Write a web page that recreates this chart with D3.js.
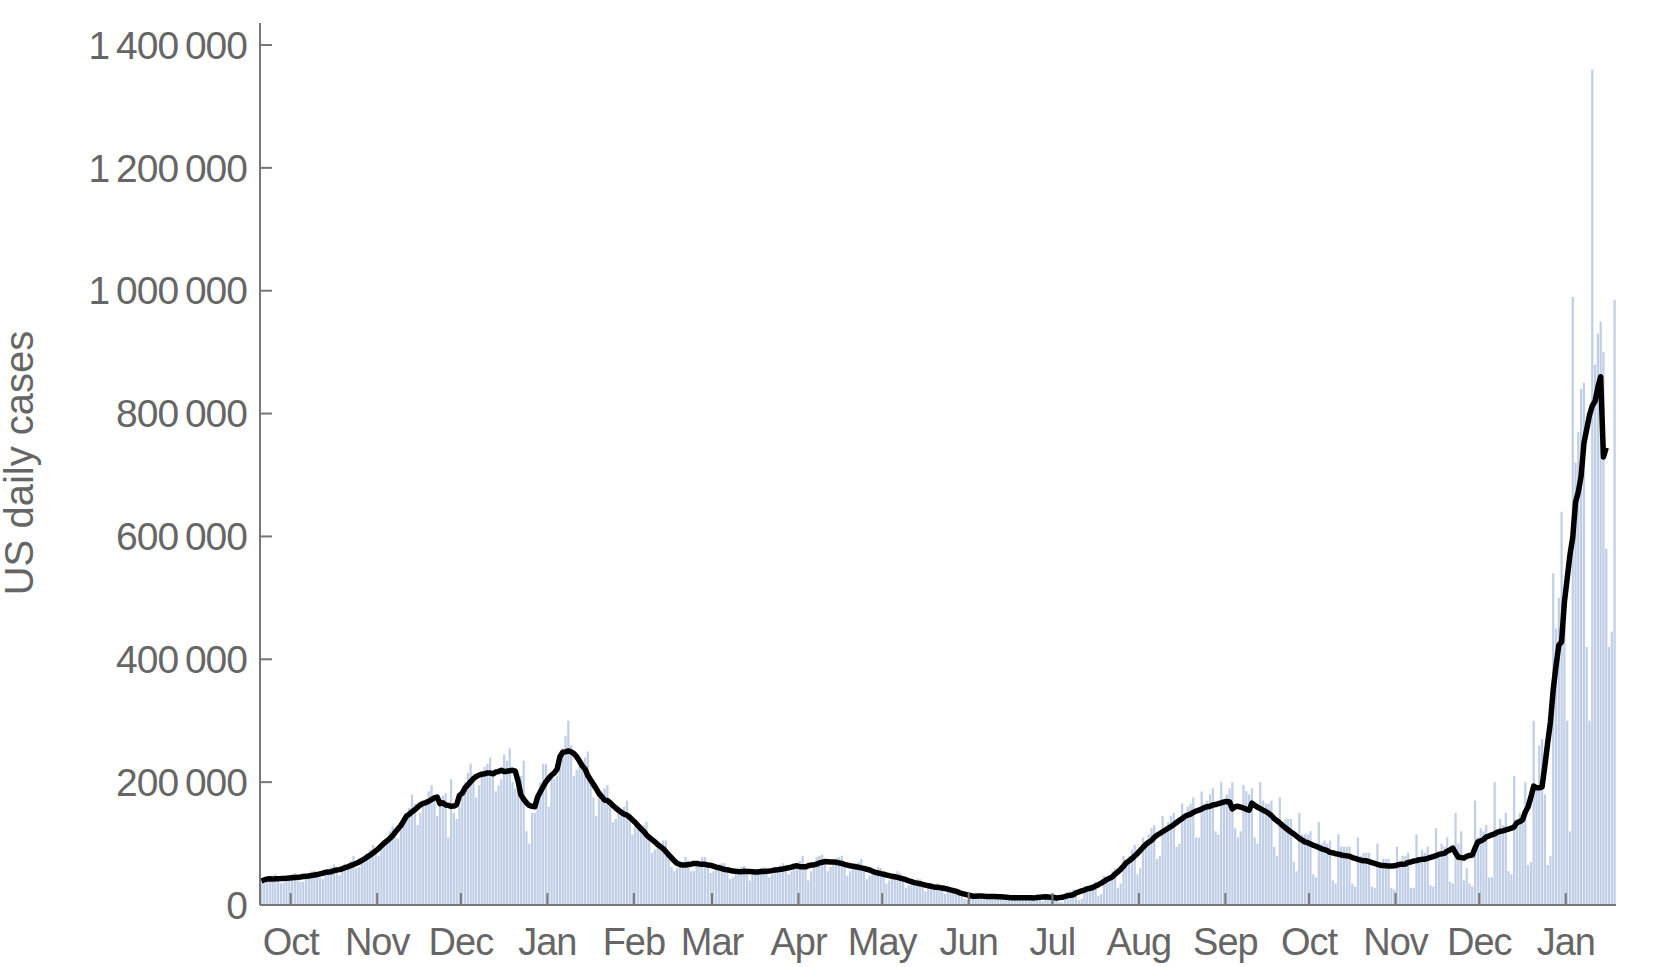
<!DOCTYPE html>
<html>
<head>
<meta charset="utf-8">
<script src="https://cdn.jsdelivr.net/npm/d3@7.9.0/dist/d3.min.js"></script>
<style>
  body { margin: 0; background: #fff; }
  text { font-family: "Liberation Sans", Arial, sans-serif; fill: #666; }
</style>
</head>
<body>
<svg id="chart" width="1667" height="967"></svg>
<script>
// daily US cases (thousands), one row per week starting Sunday 20 Sep 2020
const startDate = new Date(2020, 8, 20);
const dailyCases = [
  36, 35, 40, 45, 48, 50, 44,
  35, 36, 42, 46, 50, 52, 47,
  38, 38, 44, 50, 55, 56, 49,
  45, 42, 50, 58, 62, 66, 52,
  48, 55, 58, 62, 72, 80, 60,
  62, 68, 70, 78, 90, 98, 84,
  80, 92, 95, 105, 120, 128, 110,
  108, 122, 138, 142, 158, 180, 165,
  130, 150, 160, 172, 185, 195, 175,
  145, 170, 178, 182, 110, 205, 150,
  140, 160, 180, 200, 215, 230, 210,
  175, 195, 215, 225, 230, 240, 215,
  185, 195, 205, 245, 235, 255, 200,
  190, 200, 210, 235, 120, 100, 150,
  150, 170, 200, 230, 230, 160, 210,
  205, 210, 235, 255, 275, 300, 260,
  210, 220, 225, 235, 240, 250, 205,
  175, 145, 175, 185, 190, 195, 170,
  135, 140, 150, 155, 160, 170, 145,
  115, 130, 125, 125, 130, 135, 110,
  85, 90, 95, 100, 105, 105, 85,
  62, 55, 60, 65, 70, 78, 72,
  55, 56, 65, 70, 78, 78, 65,
  52, 55, 58, 66, 68, 68, 58,
  42, 45, 55, 58, 62, 64, 55,
  40, 50, 52, 58, 60, 62, 55,
  45, 50, 55, 60, 65, 68, 58,
  50, 55, 62, 66, 72, 80, 62,
  40, 55, 60, 78, 80, 82, 70,
  55, 62, 68, 76, 78, 80, 68,
  48, 55, 58, 68, 70, 75, 62,
  42, 48, 52, 58, 62, 60, 50,
  35, 40, 45, 50, 55, 52, 45,
  28, 32, 36, 40, 42, 42, 35,
  22, 26, 28, 32, 35, 35, 28,
  18, 22, 24, 26, 28, 26, 20,
  10, 8, 14, 18, 20, 18, 12,
  9, 11, 14, 16, 18, 17, 12,
  8, 10, 12, 14, 15, 14, 10,
  7, 10, 12, 14, 15, 15, 9,
  6, 14, 15, 17, 18, 12, 5,
  4, 8, 20, 22, 25, 24, 8,
  10, 30, 30, 33, 35, 38, 15,
  18, 48, 45, 50, 55, 60, 28,
  35, 80, 70, 80, 90, 98, 50,
  60, 110, 100, 115, 125, 130, 75,
  80, 145, 125, 135, 145, 150, 95,
  100, 165, 150, 160, 165, 175, 110,
  110, 185, 165, 170, 180, 190, 120,
  115, 200, 170, 180, 190, 200, 125,
  110, 120, 195, 185, 180, 190, 110,
  100, 200, 170, 165, 165, 170, 95,
  80, 175, 135, 140, 140, 140, 70,
  55, 150, 115, 115, 115, 120, 50,
  45, 135, 100, 105, 100, 105, 40,
  35, 115, 95, 95, 95, 95, 35,
  30, 110, 80, 85, 85, 85, 30,
  28, 100, 70, 75, 75, 75, 28,
  25, 95, 70, 80, 80, 85, 28,
  28, 115, 75, 90, 85, 95, 32,
  30, 125, 85, 100, 95, 110, 38,
  35, 150, 100, 120, 40, 60, 35,
  30, 170, 110, 125, 120, 130, 45,
  45, 200, 120, 140, 130, 150, 55,
  50, 210, 130, 150, 145, 200, 65,
  70, 300, 190, 260, 270, 180, 65,
  80, 540, 450, 500, 640, 450, 300,
  120, 990, 720, 770, 840, 850, 420,
  300, 1360, 880, 930, 950, 900, 580,
  420, 445, 985
];
const yTicks = [0, 200000, 400000, 600000, 800000, 1000000, 1200000, 1400000];
const monthTicks = ['Oct', 'Nov', 'Dec', 'Jan', 'Feb', 'Mar', 'Apr', 'May', 'Jun', 'Jul',
  'Aug', 'Sep', 'Oct', 'Nov', 'Dec', 'Jan'];

const data = dailyCases.map((v, i) => ({ date: d3.timeDay.offset(startDate, i), value: v * 1000 }));
// centred 7-day average, stops 3 days before the last bar
const avgData = data.slice(0, data.length - 3).map((d, i) => ({
  date: d.date,
  avg: d3.mean(data.slice(Math.max(0, i - 3), i + 4), w => w.value)
}));

const svg = d3.select('#chart');
const left = 260, right = 1616, bottom = 905;

const x = d3.scaleTime()
  .domain([startDate, d3.timeDay.offset(startDate, dailyCases.length)])
  .range([left, right]);
const y = d3.scaleLinear().domain([0, 1400000]).range([bottom, 45]);
const dayW = x(d3.timeDay.offset(startDate, 1)) - x(startDate);

svg.append('g').selectAll('rect')
  .data(data)
  .enter()
  .append('rect')
  .attr('x', d => x(d.date) + dayW * 0.1)
  .attr('width', dayW * 0.8)
  .attr('y', d => y(d.value))
  .attr('height', d => bottom - y(d.value))
  .attr('fill', '#c0cfe6');

svg.append('path')
  .datum(avgData)
  .attr('fill', 'none')
  .attr('stroke', '#000')
  .attr('stroke-width', 5.5)
  .attr('stroke-linejoin', 'round')
  .attr('d', d3.line().x(d => x(d.date) + dayW / 2).y(d => y(d.avg)));

// y axis
const fmt = v => d3.format(',')(v).replace(/,/g, '\u2009');
const yAxis = svg.append('g');
yAxis.append('line')
  .attr('x1', left).attr('x2', left).attr('y1', bottom).attr('y2', 23)
  .attr('stroke', '#777').attr('stroke-width', 2);
yAxis.selectAll('line.tick')
  .data(yTicks)
  .enter()
  .append('line')
  .attr('class', 'tick')
  .attr('x1', left).attr('x2', left + 12)
  .attr('y1', d => y(d)).attr('y2', d => y(d))
  .attr('stroke', '#777').attr('stroke-width', 2);
yAxis.selectAll('text')
  .data(yTicks)
  .enter()
  .append('text')
  .attr('x', 247)
  .attr('y', d => y(d))
  .attr('dy', '0.35em')
  .attr('text-anchor', 'end')
  .style('font-size', '39px')
  .style('letter-spacing', '-1px')
  .text(fmt);

svg.append('text')
  .attr('transform', `translate(33,463) rotate(-90)`)
  .attr('text-anchor', 'middle')
  .style('font-size', '40px')
  .text('US daily cases');

// x axis
const months = d3.timeMonth.range(d3.timeMonth.ceil(startDate), x.domain()[1]);
const xAxis = svg.append('g');
xAxis.append('line')
  .attr('x1', left).attr('x2', right).attr('y1', bottom).attr('y2', bottom)
  .attr('stroke', '#777').attr('stroke-width', 2);
xAxis.selectAll('line.tick')
  .data(months)
  .enter()
  .append('line')
  .attr('class', 'tick')
  .attr('x1', d => x(d)).attr('x2', d => x(d))
  .attr('y1', bottom).attr('y2', bottom - 12)
  .attr('stroke', '#777').attr('stroke-width', 2);
xAxis.selectAll('text')
  .data(months)
  .enter()
  .append('text')
  .attr('x', d => x(d))
  .attr('y', 955)
  .attr('text-anchor', 'middle')
  .style('font-size', '38px')
  .style('letter-spacing', '-1px')
  .text((d, i) => monthTicks[i]);
</script>
</body>
</html>
